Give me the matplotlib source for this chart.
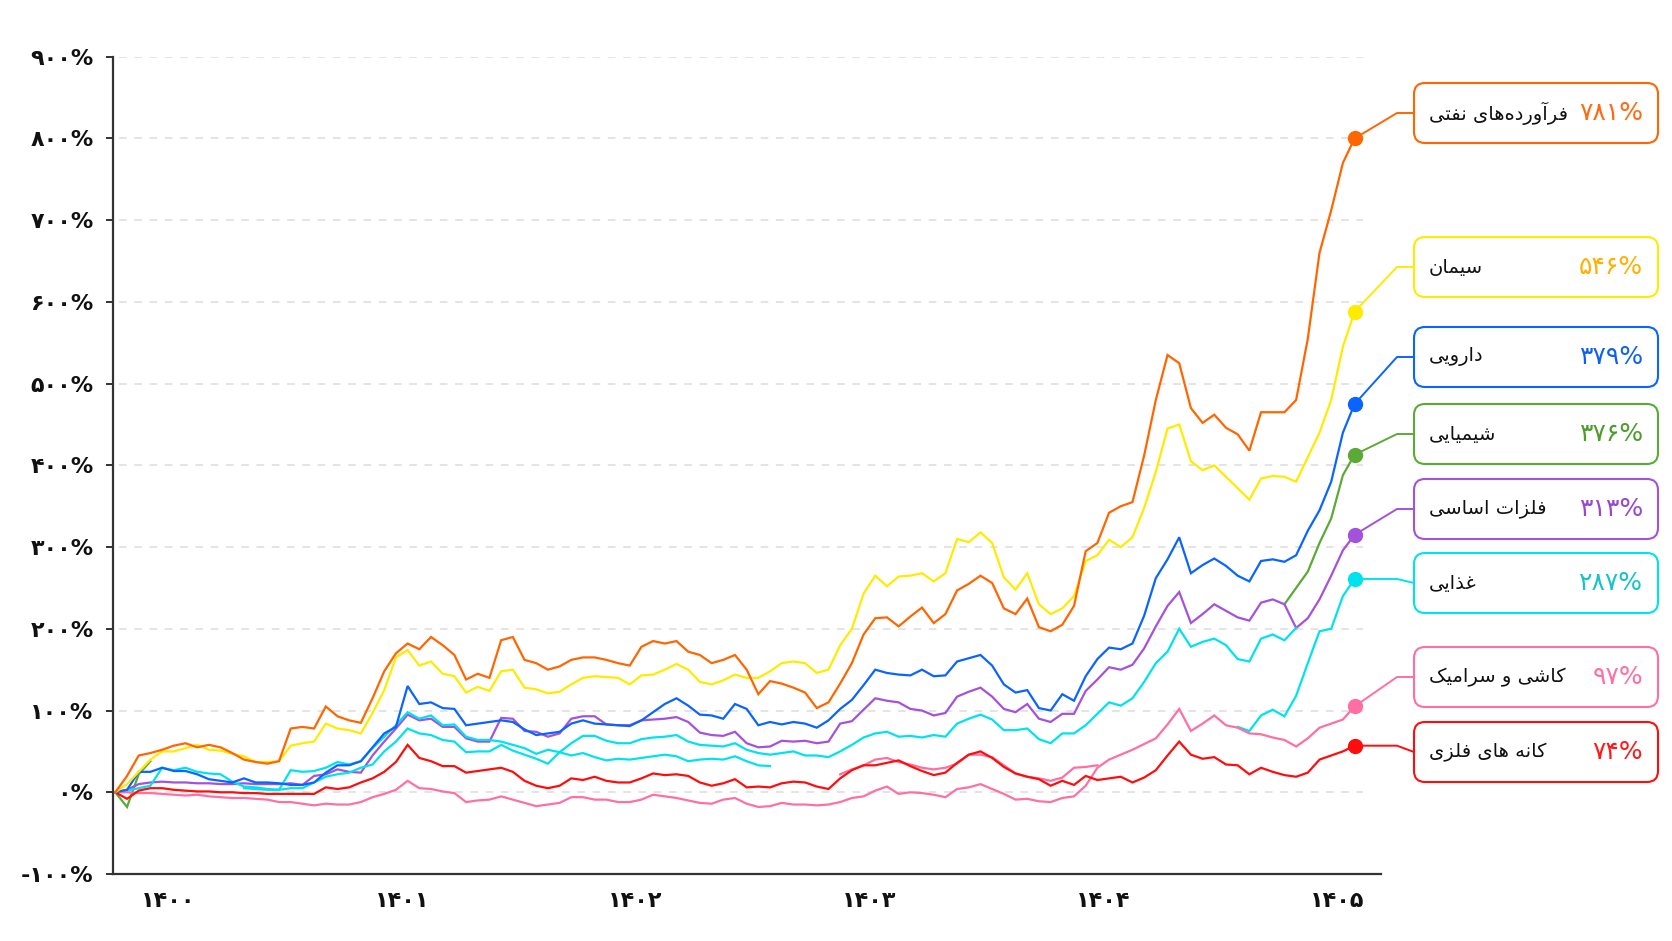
import numpy as np
import matplotlib
matplotlib.use('Agg')
import matplotlib.pyplot as plt
from matplotlib.patches import FancyBboxPatch

nan = np.nan
W, H = 1672, 941

# one sample every 0.05 of a (solar hijri) year
years = np.round(1399.775 + 0.05 * np.arange(107), 3)

petro = [0, 20, 45, 48, 52, 57, 60, 55, 58, 55, 48, 40, 37, 35, 38, 78, 80, 78, 105, 93,
         88, 85, 115, 148, 170, 182, 175, 190, 180, 168, 138, 145, 140, 186, 190, 162, 158, 150, 154, 162,
         165, 165, 162, 158, 155, 178, 185, 182, 185, 172, 168, 158, 162, 168, 150, 120, 136, 133, 128, 122,
         103, 110, 133, 158, 193, 213, 214, 203, 215, 226, 207, 218, 247, 255, 265, 256, 225, 218, 237, 202,
         197, 205, 228, 295, 305, 342, 350, 355, 412, 480, 535, 525, 470, 452, 462, 446, 438, 418, 465, 465,
         465, 480, 555, 660, 712, 770, 800]
cement = [0, 10, 25, 40, 50, 50, 54, 58, 52, 51, 47, 44, 37, 37, 38, 57, 60, 62, 84, 78,
          76, 72, 97, 125, 165, 174, 155, 160, 145, 142, 122, 129, 124, 148, 150, 128, 126, 121, 123, 132,
          140, 142, 141, 140, 132, 143, 144, 150, 157, 150, 135, 132, 137, 144, 140, 140, 148, 158, 160, 158,
          146, 150, 180, 200, 243, 265, 252, 264, 265, 268, 258, 268, 310, 306, 318, 305, 263, 248, 268, 230,
          218, 225, 240, 283, 290, 309, 300, 312, 348, 392, 445, 450, 405, 394, 400, 386, 372, 358, 384, 387,
          386, 380, 410, 440, 480, 545, 588]
pharma = [0, 3, 25, 25, 30, 26, 26, 22, 16, 14, 12, 17, 12, 12, 11, 9, 9, 12, 24, 33,
          33, 38, 55, 72, 80, 130, 108, 110, 103, 102, 82, 84, 86, 88, 86, 77, 70, 72, 74, 84,
          88, 84, 83, 82, 81, 88, 98, 108, 115, 106, 95, 94, 90, 108, 102, 82, 86, 83, 86, 84,
          79, 88, 102, 113, 131, 150, 146, 144, 143, 150, 142, 143, 160, 164, 168, 155, 132, 122, 125, 103,
          100, 120, 112, 142, 163, 177, 175, 182, 216, 262, 285, 312, 268, 278, 286, 277, 265, 258, 283, 285,
          282, 290, 320, 345, 380, 440, 475]
chem = [0, -18, 22, 38] + [nan] * 96 + [230, 250, 270, 305, 335, 388, 413]
metals = [0, 3, 10, 12, 13, 12, 12, 11, 11, 10, 10, 11, 10, 10, 10, 11, 9, 20, 22, 28,
          25, 24, 45, 62, 78, 95, 88, 90, 80, 80, 66, 62, 62, 91, 90, 75, 74, 68, 72, 90,
          93, 93, 83, 82, 82, 88, 89, 90, 92, 86, 73, 70, 69, 74, 60, 55, 56, 63, 62, 63,
          60, 62, 84, 87, 101, 115, 112, 110, 102, 100, 94, 97, 117, 123, 128, 117, 102, 98, 108, 90,
          86, 96, 96, 124, 138, 153, 150, 156, 176, 203, 228, 245, 207, 218, 230, 222, 214, 210, 232, 236,
          230, 201, 213, 236, 265, 296, 315]
food = [0, 2, 5, 8, 30, 27, 30, 25, 23, 22, 13, 7, 6, 4, 3, 27, 25, 26, 30, 37,
        34, 38, 54, 68, 82, 98, 90, 94, 82, 83, 68, 64, 64, 62, 58, 54, 47, 52, 49, 60,
        69, 69, 63, 60, 60, 65, 67, 68, 70, 62, 58, 57, 56, 60, 52, 48, 46, 48, 50, 45,
        45, 43, 50, 58, 67, 72, 74, 68, 69, 67, 70, 68, 84, 90, 95, 89, 76, 76, 78, 65,
        60, 72, 72, 82, 96, 110, 106, 115, 135, 158, 172, 200, 178, 184, 188, 180, 163, 160, 188, 193,
        186, 201] + [nan] * 5
# second cyan trace of the same sector (visible only in two stretches)
food_b = ([nan] * 11 + [5, 4, 3, 3, 5, 5, 12, 19, 22, 24, 30, 34, 50, 62, 78, 72, 70, 64, 62,
          49, 50, 50, 58, 51, 46, 41, 35, 49, 45, 48, 43, 39, 41, 40, 42, 44, 46, 44, 38,
          40, 41, 40, 44, 38, 33, 32] + [nan] * 39 +
          [80, 75, 94, 101, 93, 118, 158, 197, 200, 240, 261])
tile = [0, 0, -1, -1, -2, -3, -4, -3, -5, -6, -7, -7, -8, -9, -12, -12, -14, -16, -14, -15,
        -15, -12, -6, -2, 3, 14, 5, 4, 1, -1, -12, -10, -9, -5, -9, -13, -17, -15, -13, -6,
        -6, -9, -9, -12, -12, -9, -3, -5, -7, -10, -13, -14, -9, -7, -14, -18, -17, -13, -15, -15,
        -16, -15, -12, -7, -5, 2, 7, -2, 0, -1, -3, -6, 4, 6, 10, 4, -2, -9, -8, -11,
        -12, -7, -5, 8, 30, 40, 46, 52, 59, 66, 83, 102, 75, 84, 94, 82, 79, 72, 71, 67,
        64, 56, 66, 79, 84, 89, 105]
tile_b = ([nan] * 62 + [22, 28, 33, 40, 42, 37, 34, 30, 28, 30, 35, 46, 46, 43, 33, 23, 19, 17,
          14, 18, 30, 31, 33] + [nan] * 22)
ore = [0, -8, 2, 5, 5, 3, 2, 1, 1, 0, 0, -1, -1, -2, -2, -2, -2, -2, 6, 4,
       6, 12, 17, 25, 37, 58, 42, 38, 32, 32, 24, 26, 28, 30, 25, 14, 8, 5, 8, 17,
       15, 19, 14, 12, 12, 17, 23, 21, 22, 20, 12, 8, 11, 16, 6, 7, 6, 11, 13, 12,
       7, 4, 17, 27, 33, 33, 36, 39, 32, 26, 21, 24, 36, 46, 50, 42, 31, 23, 19, 16,
       8, 14, 9, 20, 15, 17, 19, 12, 18, 27, 45, 62, 46, 41, 43, 34, 33, 22, 30, 25,
       21, 19, 24, 40, 45, 50, 57]

names = ['فرآورده‌های نفتی', 'سیمان', 'دارویی', 'شیمیایی', 'فلزات اساسی', 'غذایی',
         'کاشی و سرامیک', 'کانه های فلزی']
totals = [781, 546, 379, 376, 313, 287, 97, 74]
ends = [petro, cement, pharma, chem, metals, food_b, tile, ore]
line_colors = ['#FF6600', '#FFEB00', '#0A64FF', '#5BAA36', '#A452DB', '#00E3EE', '#FF6FA3', '#FF0D0D']
value_colors = ['#FF6A10', '#FFB000', '#1060F0', '#4C9E2C', '#9848CC', '#16C4C8', '#FF6FA3', '#FF1A1A']
box_centers = [113, 267, 357, 434, 509, 583, 677, 752]

y_ticks = [-100, 0, 100, 200, 300, 400, 500, 600, 700, 800, 900]
x_ticks = [1400, 1401, 1402, 1403, 1404, 1405]

FA_DIGITS = str.maketrans('0123456789', '۰۱۲۳۴۵۶۷۸۹')

RIGHT_ONLY = set('اآدذرزو')
FORMS = {
  'ا': '\ufe8d\ufe8e', 'آ': '\ufe81\ufe82', 'د': '\ufea9\ufeaa', 'ذ': '\ufeab\ufeac',
  'ر': '\ufead\ufeae', 'ز': '\ufeaf\ufeb0', 'و': '\ufeed\ufeee',
  'ت': '\ufe95\ufe96\ufe97\ufe98', 'س': '\ufeb1\ufeb2\ufeb3\ufeb4',
  'ش': '\ufeb5\ufeb6\ufeb7\ufeb8', 'غ': '\ufecd\ufece\ufecf\ufed0',
  'ف': '\ufed1\ufed2\ufed3\ufed4', 'ل': '\ufedd\ufede\ufedf\ufee0',
  'م': '\ufee1\ufee2\ufee3\ufee4', 'ن': '\ufee5\ufee6\ufee7\ufee8',
  'ه': '\ufee9\ufeea\ufeeb\ufeec', 'ی': '\ufbfc\ufbfd\ufbfe\ufbff',
  'ک': '\ufb8e\ufb8f\ufb90\ufb91',
}

def fa(s):
  return str(s).translate(FA_DIGITS)

def shape(word):
  # matplotlib has no arabic shaping: pick presentation forms, then reverse
  out = []
  for i, c in enumerate(word):
    if c not in FORMS:
      if c != '\u200c':
        out.append(c)
      continue
    prev = word[i - 1] if i > 0 else ''
    nxt = word[i + 1] if i + 1 < len(word) else ''
    jp = prev in FORMS and prev not in RIGHT_ONLY
    jn = c not in RIGHT_ONLY and nxt in FORMS
    f = FORMS[c]
    if jp and jn:
      out.append(f[3])
    elif jp:
      out.append(f[1])
    elif jn:
      out.append(f[2])
    else:
      out.append(f[0])
  return ''.join(reversed(out))

plt.rcParams['font.family'] = ['DejaVu Sans']
fig = plt.figure(figsize=(W / 100, H / 100), dpi=100)
fig.patch.set_facecolor('white')
ax = fig.add_axes([113 / W, 1 - 874 / H, (1381 - 113) / W, (874 - 56.7) / H])
ax.set_xlim(1399.765, 1405.188)
ax.set_ylim(-100, 900)

ax.hlines([v for v in y_ticks if v > -100], 1399.79, 1405.11, colors='#dddddd',
          linestyles=(0, (5, 5)), lw=1.1, zorder=0)

draw_order = [(chem, 3), (metals, 4), (food_b, 5), (food, 5), (tile_b, 6), (tile, 6),
              (ore, 7), (pharma, 2), (cement, 1), (petro, 0)]
for vals, k in draw_order:
  ax.plot(years, vals, color=line_colors[k], lw=1.6, solid_joinstyle='miter', zorder=2)

for k, vals in enumerate(ends):
  ax.plot(years[-1], vals[-1], 'o', ms=10, color=line_colors[k], zorder=4, clip_on=False)

for s in ['top', 'right']:
  ax.spines[s].set_visible(False)
for s in ['left', 'bottom']:
  ax.spines[s].set_color('#333333')
  ax.spines[s].set_linewidth(1.6)

ax.set_yticks(y_ticks)
ax.set_yticklabels([fa(f'{v}%') for v in y_ticks], fontsize=16, fontweight='bold', color='#111111')
ax.set_xticks(x_ticks)
ax.set_xticklabels([fa(v) for v in x_ticks], fontsize=16, fontweight='bold', color='#111111')
ax.tick_params(axis='y', length=5, width=1.4, color='#333333', pad=9)
ax.tick_params(axis='x', length=0, pad=12)

# labels on the right, drawn in pixel space
lay = fig.add_axes([0, 0, 1, 1])
lay.set_xlim(0, W)
lay.set_ylim(H, 0)
lay.axis('off')

for k, vals in enumerate(ends):
  px, py = ax.transData.transform((years[-1], vals[-1]))
  py = H - py
  cy = box_centers[k]
  ey = min(py, cy)
  lay.plot([px, 1397, 1414], [py, ey, cy], color=line_colors[k], lw=1.4, zorder=1)
  box = FancyBboxPatch((1414, cy - 30), 244, 60, boxstyle='round,pad=0,rounding_size=11',
                       fc='white', ec=line_colors[k], lw=1.5, zorder=2)
  lay.add_patch(box)
  lay.text(1429, cy, shape(names[k]), fontsize=14, color='#111111', ha='left', va='center', zorder=3)
  lay.text(1643, cy, fa(f'{totals[k]}%'), fontsize=18, color=value_colors[k], ha='right',
           va='center', zorder=3)

fig.savefig('out.png', dpi=100)
